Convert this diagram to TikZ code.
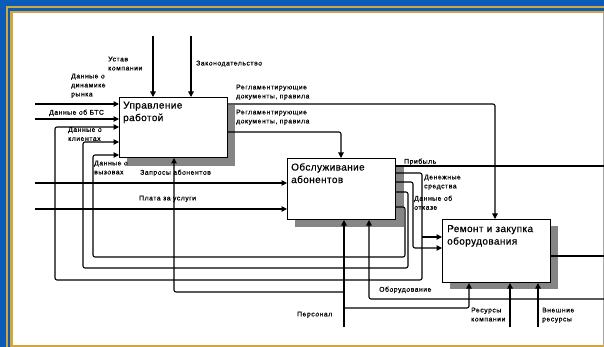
\documentclass[tikz,border=0pt]{standalone}
\usepackage{fontspec}
\setmainfont{Liberation Sans}
\newfontfamily\lblfont[LetterSpace=8,FakeBold=0.6]{Liberation Sans}
\newfontfamily\ttlfont[LetterSpace=4,FakeBold=0.6]{Liberation Sans}
\usetikzlibrary{arrows.meta,calc}
\definecolor{frameblue}{HTML}{0B5CB8}
\definecolor{framegold}{HTML}{D2A63C}
\definecolor{shadowgray}{HTML}{858585}
\begin{document}
\begin{tikzpicture}[x=1pt,y=-1pt,
  box/.style={draw=black, line width=1pt, fill=white, minimum width=108pt, anchor=north west, inner sep=0pt},
  conn/.style={draw=black, line width=1.1pt, rounded corners=2pt},
  arr/.style={conn, -{Triangle[length=5.5pt,width=5.5pt]}},
  lbl/.style={anchor=north west, inner sep=0pt, align=left, font=\lblfont\fontsize{6.8}{9}\selectfont},
  ttl/.style={anchor=north west, inner sep=0pt, align=left, font=\ttlfont\fontsize{10}{12.5}\selectfont}]
\useasboundingbox (0,0) rectangle (604,347);
% frame
\fill[frameblue] (0,0) rectangle (604,347);
\draw[framegold, line width=2.4pt] (6.8,7) rectangle (660,420);
\draw[framegold, line width=2.2pt] (11.4,12) rectangle (660,346);
\fill[white] (12.6,13.2) rectangle (604,344.8);
\draw[black!35, line width=0.6pt] (603,13.2) -- (603,344.8);
% shadows
\fill[shadowgray] (127,105) rectangle (235,166);
\fill[shadowgray] (295,166) rectangle (404,227);
\fill[shadowgray] (450,226) rectangle (558,289);
% boxes
\node[box, minimum height=60pt] (b1) at (119,97) {};
\node[box, minimum height=61pt] (b2) at (287,158) {};
\node[box, minimum height=63pt] (b3) at (442,219) {};
\node[ttl] (t1) at (123,101.5) {Управление\\работой};
\node[ttl] (t2) at (291,163) {Обслуживание\\абонентов};
\node[ttl] (t3) at (447,225) {Ремонт и закупка\\оборудования};
% free ends
\coordinate (c1) at (153,36);
\coordinate (c2) at (191,36);
\coordinate (in1) at (35,104);
\coordinate (in2) at (35,119);
\coordinate (in5) at (35,183);
\coordinate (in6) at (35,209);
\coordinate (m1) at (344,327);
\coordinate (j1) at (344,292);
\coordinate (j2) at (344,308);
\coordinate (m2) at (510,327);
\coordinate (m3) at (538,327);
\coordinate (out1) at (604,166);
\coordinate (out2) at (604,256);
\coordinate (in7) at (604,299);
\coordinate (br1) at (422,237);
% controls of b1
\draw[arr] (c1) -- (c1 |- b1.north);
\draw[arr] (c2) -- (c2 |- b1.north);
% inputs
\draw[arr] (in1) -- (in1 -| b1.west);
\draw[arr] (in2) -- (in2 -| b1.west);
\draw[arr] (in5) -- (in5 -| b2.west);
\draw[arr] (in6) -- (in6 -| b2.west);
% b1 outputs
\draw[arr] ([yshift=-7pt]b1.north east) -| ([xshift=53pt]b3.north west);
\draw[arr] ([yshift=-35pt]b1.north east) -| ([xshift=54pt]b2.north west);
% b2 outputs
\draw[conn] ([yshift=-8pt]b2.north east) -- (out1);
\draw[arr] ([yshift=-15pt]b2.north east) -| (422,280) -| (55,127) -- ([yshift=-30pt]b1.north west);
\draw[arr] (br1) -- ([yshift=-18pt]b3.north west);
\draw[arr] ([yshift=-24pt]b2.north east) -| (413,248) -- ([yshift=-29pt]b3.north west);
\draw[arr] ([yshift=-34pt]b2.north east) -| (408,268) -| (83,142) -- ([yshift=-45pt]b1.north west);
\draw[arr] ([yshift=-49pt]b2.north east) -| (405,257) -| (93,155) -- ([yshift=-58pt]b1.north west);
% b3 output
\draw[conn] ([yshift=-37pt]b3.north east) -- (out2);
% mechanisms
\draw[arr] (m1) -- (m1 |- b2.south);
\draw[arr] (j1) -| ([xshift=55pt]b1.south west);
\draw[arr] (j2) -| ([xshift=27pt]b3.south west);
\draw[arr] (m2) -- (m2 |- b3.south);
\draw[arr] (m3) -- (m3 |- b3.south);
\draw[arr] (in7) -| ([xshift=82pt]b2.south west);
% labels
\node[lbl] (l1) at (108,56.5) {Устав\\компании};
\node[lbl] (l2) at (196,60.5) {Законодательство};
\node[lbl] (l3) at (71,73.5) {Данные о\\динамике\\рынка};
\node[lbl] (l4) at (49,109.5) {Данные об БТС};
\node[lbl] (l5) at (68,127) {Данные о\\клиентах};
\node[lbl] (l6) at (94,160.5) {Данные о\\вызовах};
\node[lbl] (l7) at (140,169.5) {Запросы абонентов};
\node[lbl] (l8) at (139,195.5) {Плата за услуги};
\node[lbl] (l9) at (236,84.5) {Регламентирующие\\документы, правила};
\node[lbl] (l10) at (236,109.5) {Регламентирующие\\документы, правила};
\node[lbl] (l11) at (404,158.5) {Прибыль};
\node[lbl] (l12) at (424,174.5) {Денежные\\средства};
\node[lbl] (l13) at (414,195.5) {Данные об\\отказе};
\node[lbl] (l14) at (379,286.5) {Оборудование};
\node[lbl] (l15) at (297,311.5) {Персонал};
\node[lbl] (l16) at (471,307.5) {Ресурсы\\компании};
\node[lbl] (l17) at (542,307.5) {Внешние\\ресурсы};
\end{tikzpicture}
\end{document}
